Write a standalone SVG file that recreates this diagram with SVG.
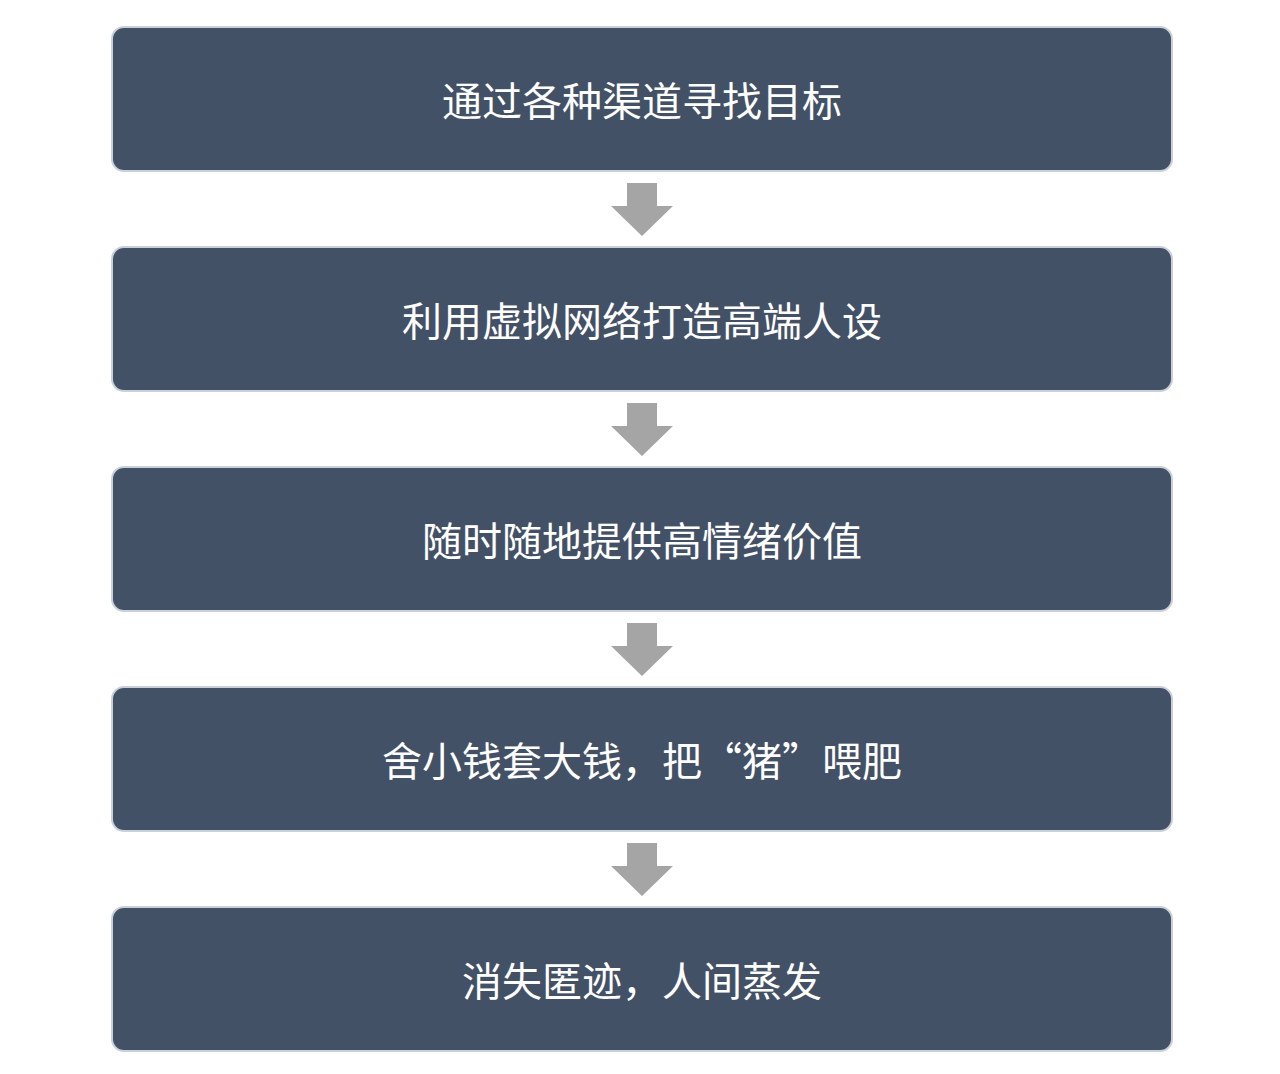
<svg xmlns="http://www.w3.org/2000/svg" width="1280" height="1074" viewBox="0 0 1280 1074">
<style>
.box{fill:#435166;stroke:#c9d0da;stroke-width:2}
.t{fill:#ffffff;font-family:"Noto Sans CJK SC","Noto Sans",sans-serif;font-size:40px;text-anchor:middle;dominant-baseline:central}
.ar{fill:#a5a5a5}
</style>
<rect width="1280" height="1074" fill="#ffffff"/>
<g id="connectors">
<path class="ar" d="M627,183 H657 V206 H673 L642,236 L611,206 H627 Z"/>
<path class="ar" d="M627,403 H657 V426 H673 L642,456 L611,426 H627 Z"/>
<path class="ar" d="M627,623 H657 V646 H673 L642,676 L611,646 H627 Z"/>
<path class="ar" d="M627,843 H657 V866 H673 L642,896 L611,866 H627 Z"/>
</g>
<g id="n1"><rect class="box" x="112" y="27" width="1060" height="144" rx="12"/><text class="t" x="642" y="99">通过各种渠道寻找目标</text></g>
<g id="n2"><rect class="box" x="112" y="247" width="1060" height="144" rx="12"/><text class="t" x="642" y="319">利用虚拟网络打造高端人设</text></g>
<g id="n3"><rect class="box" x="112" y="467" width="1060" height="144" rx="12"/><text class="t" x="642" y="539">随时随地提供高情绪价值</text></g>
<g id="n4"><rect class="box" x="112" y="687" width="1060" height="144" rx="12"/><text class="t" x="642" y="759">舍小钱套大钱，把“猪”喂肥</text></g>
<g id="n5"><rect class="box" x="112" y="907" width="1060" height="144" rx="12"/><text class="t" x="642" y="979">消失匿迹，人间蒸发</text></g>
</svg>
